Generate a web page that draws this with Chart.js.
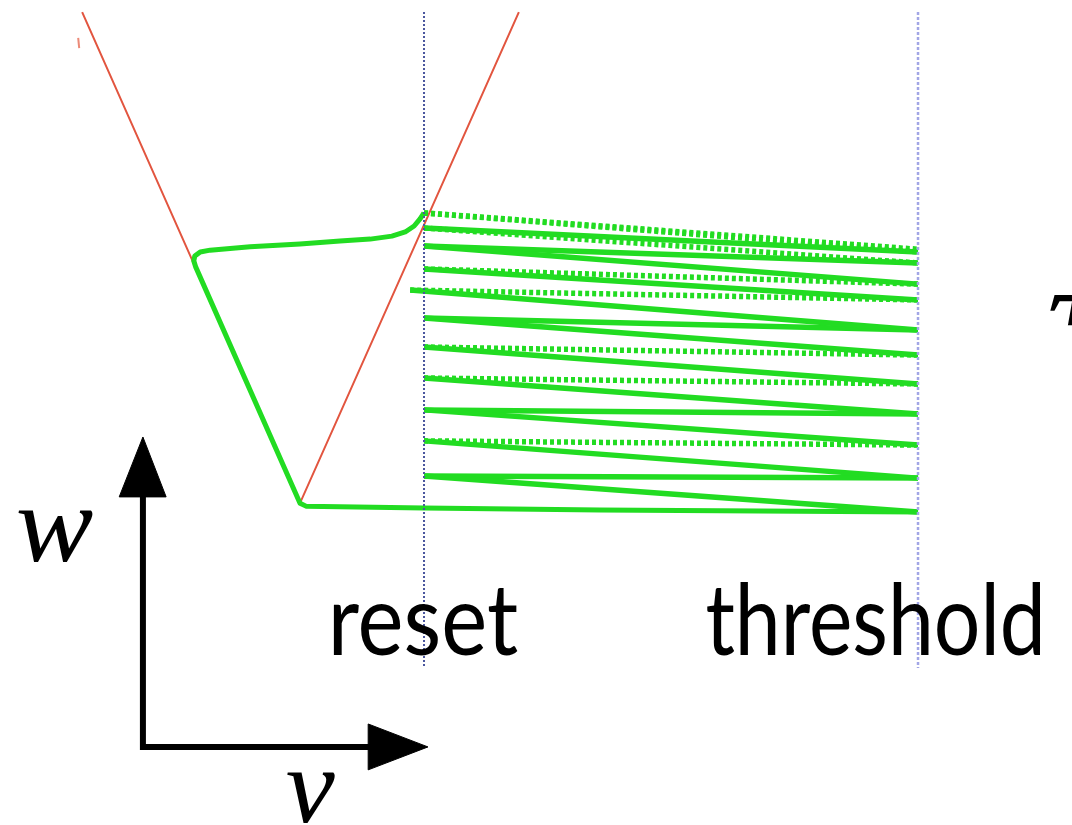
<!DOCTYPE html>
<html>
<head>
<meta charset="utf-8">
<title>Adaptive integrate-and-fire phase plane</title>
<script src="https://cdn.jsdelivr.net/npm/chart.js@4.4.1/dist/chart.umd.min.js"></script>
<style>
  html, body { margin: 0; padding: 0; background: #fff; }
  .phase-plane-container { position: relative; width: 1072px; height: 825px; }
</style>
</head>
<body>
<div class="phase-plane-container"><canvas id="phasePlane"></canvas></div>
<script>
// v = membrane potential (reset at 0, threshold at 10), w = adaptation current
const vReset = 0;
const vThreshold = 10;
const markerW = [16.71, -5.3];

// V-shaped v-nullcline
const nullclineV = [-6.92, -2.51, 1.92];
const nullclineW = [16.71, 0.23, 16.71];
const nullStubV = [-7.0, -6.98];
const nullStubW = [15.84, 15.5];

// first passage: back along from reset, down the left branch, then the long run to threshold
const firstPassV = [0, -0.08, -0.2, -0.38, -0.65, -1.09, -1.7, -2.51, -3.52, -4.33, -4.53, -4.64, -4.66, -4.62, -2.51, -2.39, 0, 3.56, 10];
const firstPassW = [9.97, 9.77, 9.53, 9.33, 9.19, 9.09, 9.03, 8.93, 8.83, 8.72, 8.66, 8.52, 8.36, 8.15, 0.23, 0.13, 0.07, 0, -0.07];

// after each spike: where the run leaves reset, and the two threshold arrivals
const spikeStartV = [0, 0, 0, 0, -0.28, 0, 0, 0, 0, 0, 0];
const spikeStartW = [9.97, 9.46, 8.86, 8.09, 7.38, 6.44, 5.47, 4.43, 3.36, 2.32, 1.14];
const spikeEndW = [8.66, 8.29, 7.58, 7.05, 6.04, 5.2, 4.23, 3.22, 2.18, 1.07, -0.07];
const spikeFlatEndW = [8.75, 8.66, 8.29, 7.58, 7.05, 6.04, 5.2, 4.23, 3.22, 2.18, 1.07];
const dottedSlope = [0, 1];
const dottedFlat = [0, 3, 4, 6, 7, 9];

// axis arrows in the lower left corner
const axisV = [-5.69, -5.69, -1.0];
const axisW = [0.6, -7.95, -7.95];
const wHeadV = [-6.17, -5.69, -5.22, -6.17];
const wHeadW = [0.44, 2.45, 0.44, 0.44];
const vHeadV = [-1.13, 0.08, -1.13, -1.13];
const vHeadW = [-7.18, -7.95, -8.72, -7.18];

// visible window
const vMin = -8.583, vMax = 13.117;
const wMin = -10.57, wMax = 17.114;

const GREEN = "#22dc22";
const toPoints = (vs, ws) => vs.map((v, i) => ({ x: v, y: ws[i] }));

const datasets = [];

// dotted markers at reset and threshold go on top
datasets.push({
  data: toPoints([vReset, vReset], markerW),
  borderColor: "#4b579e", borderWidth: 2, borderDash: [2, 2], order: 0,
});
datasets.push({
  data: toPoints([vThreshold, vThreshold], markerW),
  borderColor: "#a2a6e6", borderWidth: 2.5, borderDash: [3, 2], order: 0,
});

datasets.push({
  data: toPoints(firstPassV, firstPassW),
  borderColor: GREEN, borderWidth: 5, borderJoinStyle: "round", order: 1,
});

spikeStartW.forEach((w0, k) => {
  const start = { x: spikeStartV[k], y: w0 };
  datasets.push({
    data: [start, { x: vThreshold, y: spikeEndW[k] }],
    borderColor: GREEN, borderWidth: 5.5, order: 1,
    borderDash: dottedSlope.includes(k) ? [4, 3] : [],
  });
  datasets.push({
    data: [start, { x: vThreshold, y: spikeFlatEndW[k] }],
    borderColor: GREEN, borderWidth: 5.5, order: 1,
    borderDash: dottedFlat.includes(k) ? [4, 3] : [],
  });
});

datasets.push({
  data: toPoints(nullclineV, nullclineW),
  borderColor: "#e2553f", borderWidth: 2, order: 2,
});
datasets.push({
  data: toPoints(nullStubV, nullStubW),
  borderColor: "#ec8a78", borderWidth: 2, order: 2,
});

datasets.push({
  data: toPoints(axisV, axisW),
  borderColor: "#000", borderWidth: 6, borderJoinStyle: "miter", order: 3,
});
[[wHeadV, wHeadW], [vHeadV, vHeadW]].forEach(([hv, hw]) => {
  datasets.push({
    data: toPoints(hv, hw),
    borderColor: "#000", borderWidth: 1, backgroundColor: "#000",
    fill: "shape", order: 3,
  });
});

datasets.forEach((d) => {
  d.showLine = true;
  d.pointRadius = 0;
  d.tension = 0;
});

// text labels, anchored in (v, w) and squeezed to their box width;
// the tau sits mostly past the right edge, only its top stroke shows
const labels = [
  { text: "reset", v: 0.03, w: -4.87, font: "98px Lato", width: 185 },
  { text: "threshold", v: 9.1, w: -4.87, font: "98px Lato", width: 333 },
  { text: "w", v: -7.46, w: -1.71, font: "italic 110px 'Liberation Serif'", width: 75 },
  { text: "v", v: -2.29, w: -10.47, font: "italic 108px 'Liberation Serif'", width: 48 },
  { text: "τ", v: 12.67, w: 4.87, font: "italic 150px 'Liberation Serif'", width: 0, left: true, cropBelowW: 6.2 },
];

const labelPlugin = {
  id: "phaseLabels",
  afterDraw(chart) {
    const { ctx } = chart;
    const xs = chart.scales.x, ys = chart.scales.y;
    ctx.save();
    ctx.fillStyle = "#000";
    ctx.textBaseline = "alphabetic";
    ctx.textAlign = "left";
    labels.forEach((l) => {
      ctx.font = l.font;
      const m = ctx.measureText(l.text);
      const ink = m.actualBoundingBoxLeft + m.actualBoundingBoxRight;
      const sx = l.width ? l.width / ink : 1;
      const px = xs.getPixelForValue(l.v);
      const py = ys.getPixelForValue(l.w);
      ctx.save();
      if (l.cropBelowW !== undefined) {
        ctx.beginPath();
        ctx.rect(0, 0, chart.width, ys.getPixelForValue(l.cropBelowW));
        ctx.clip();
      }
      ctx.translate(px, py);
      ctx.scale(sx, 1);
      const dx = l.left ? m.actualBoundingBoxLeft : -ink / 2 + m.actualBoundingBoxLeft;
      ctx.fillText(l.text, dx, 0);
      ctx.restore();
    });
    ctx.restore();
  },
};

new Chart(document.getElementById("phasePlane"), {
  type: "scatter",
  data: { datasets },
  options: {
    responsive: true,
    maintainAspectRatio: false,
    animation: false,
    layout: { padding: 0 },
    plugins: { legend: { display: false }, tooltip: { enabled: false } },
    scales: {
      x: { type: "linear", display: false, min: vMin, max: vMax },
      y: { type: "linear", display: false, min: wMin, max: wMax },
    },
  },
  plugins: [labelPlugin],
});
</script>
</body>
</html>
